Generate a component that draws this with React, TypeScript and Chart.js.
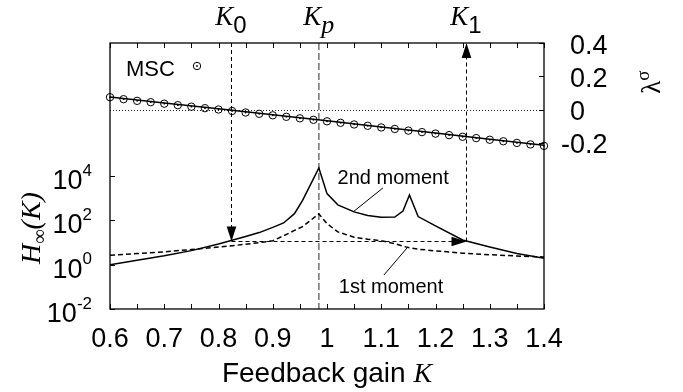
import React, { useEffect, useRef } from 'react';
import { Chart, registerables } from 'chart.js';

Chart.register(...registerables);

// ---------- data ----------
const K_CURVE = [0.6, 0.65, 0.7, 0.75, 0.8, 0.85, 0.875, 0.9, 0.92, 0.94, 0.955, 0.985, 1.0, 1.02, 1.05, 1.075, 1.1, 1.125, 1.14, 1.152, 1.168, 1.2, 1.25, 1.3, 1.35, 1.4];
const H_SECOND = [1.0, 1.6, 2.5, 4.3, 8.5, 18.6, 28, 48, 76, 200, 794, 22900, 1600, 500, 240, 166, 138, 141, 263, 1380, 148, 56, 13, 6.3, 3.2, 1.95];
const H_FIRST = [2.63, 3.16, 3.8, 4.8, 6.2, 8.3, 9.8, 12, 20, 35, 52, 195, 71, 30, 17.4, 14.1, 12, 8.9, 6.8, 5.75, 5.0, 4.2, 3.3, 2.8, 2.45, 2.24];

const K_LAMBDA = [0.6, 0.7, 0.8, 0.9, 1.0, 1.1, 1.2, 1.3, 1.4];
const LAMBDA = [0.075, 0.039, 0.004, -0.031, -0.068, -0.105, -0.142, -0.179, -0.215];

const K_MSC = [0.6, 0.625, 0.65, 0.675, 0.7, 0.725, 0.75, 0.775, 0.8, 0.825, 0.85, 0.875, 0.9, 0.925, 0.95, 0.975, 1.0, 1.025, 1.05, 1.075, 1.1, 1.125, 1.15, 1.175, 1.2, 1.225, 1.25, 1.275, 1.3, 1.325, 1.35, 1.375, 1.4];
const MSC = [0.074, 0.062, 0.052, 0.044, 0.035, 0.026, 0.017, 0.008, 0.0, -0.009, -0.018, -0.026, -0.035, -0.044, -0.053, -0.062, -0.071, -0.08, -0.09, -0.098, -0.108, -0.117, -0.127, -0.136, -0.145, -0.154, -0.164, -0.172, -0.182, -0.191, -0.201, -0.21, -0.219];

const X_TICKS = [0.6, 0.7, 0.8, 0.9, 1.0, 1.1, 1.2, 1.3, 1.4];
const X_TICK_LABELS = ['0.6', '0.7', '0.8', '0.9', '1', '1.1', '1.2', '1.3', '1.4'];
const X_MINOR = [0.65, 0.75, 0.85, 0.95, 1.05, 1.15, 1.25, 1.35];
const H_TICKS = [1e-2, 1, 1e2, 1e4];
const H_TICK_EXP = ['-2', '0', '2', '4'];
const L_TICKS = [0.4, 0.2, 0, -0.2];
const L_TICK_LABELS = ['0.4', '0.2', '0', '-0.2'];

const K0 = 0.823;
const KP = 0.985;
const K1 = 1.256;
const H_LEVEL = 11.5;

// ---------- drawing helpers ----------
const SANS = '"Liberation Sans", Arial, sans-serif';
const SERIF = '"Liberation Serif", "Times New Roman", serif';

type Run = { t: string; f: string; dy?: number };

function drawRuns(ctx: CanvasRenderingContext2D, list: Run[], x: number, y: number, align: 'left' | 'center' | 'right', rot = 0) {
  ctx.save();
  ctx.translate(x, y);
  if (rot) ctx.rotate(rot);
  ctx.textAlign = 'left';
  ctx.textBaseline = 'alphabetic';
  const ws = list.map((r) => {
    ctx.font = r.f;
    return ctx.measureText(r.t).width;
  });
  const total = ws.reduce((s, w) => s + w, 0);
  let cx = align === 'left' ? 0 : align === 'right' ? -total : -total / 2;
  list.forEach((r, i) => {
    ctx.font = r.f;
    ctx.fillText(r.t, cx, r.dy || 0);
    cx += ws[i];
  });
  ctx.restore();
}

function seg(ctx: CanvasRenderingContext2D, x1: number, y1: number, x2: number, y2: number) {
  ctx.beginPath();
  ctx.moveTo(x1, y1);
  ctx.lineTo(x2, y2);
  ctx.stroke();
}

function head(ctx: CanvasRenderingContext2D, tx: number, ty: number, dir: 'up' | 'down' | 'right') {
  const L = 15;
  const W = 4.8;
  ctx.beginPath();
  if (dir === 'down') {
    ctx.moveTo(tx, ty);
    ctx.lineTo(tx - W, ty - L);
    ctx.lineTo(tx + W, ty - L);
  } else if (dir === 'up') {
    ctx.moveTo(tx, ty);
    ctx.lineTo(tx - W, ty + L);
    ctx.lineTo(tx + W, ty + L);
  } else {
    ctx.moveTo(tx, ty);
    ctx.lineTo(tx - L, ty - W);
    ctx.lineTo(tx - L, ty + W);
  }
  ctx.closePath();
  ctx.fill();
}

const decor = {
  id: 'gnuplotDecor',
  beforeDatasetsDraw(chart: any) {
    const { ctx, chartArea: a } = chart;
    const sx = chart.scales.x;
    const sl = chart.scales.y2;
    ctx.save();
    ctx.strokeStyle = '#222';
    ctx.lineWidth = 1;
    ctx.setLineDash([1, 2]);
    const y0 = Math.round(sl.getPixelForValue(0)) + 0.5;
    seg(ctx, a.left, y0, a.right, y0);
    ctx.strokeStyle = '#7a7a7a';
    ctx.lineWidth = 1.6;
    ctx.setLineDash([7, 3]);
    const xp = sx.getPixelForValue(KP);
    seg(ctx, xp, a.top, xp, a.bottom);
    ctx.restore();
  },
  afterDatasetsDraw(chart: any) {
    const { ctx, chartArea: a } = chart;
    const sx = chart.scales.x;
    const sy = chart.scales.y;
    const sl = chart.scales.y2;
    const X = (v: number) => sx.getPixelForValue(v);
    const Y = (v: number) => sy.getPixelForValue(v);
    const L = (v: number) => sl.getPixelForValue(v);
    ctx.save();
    ctx.fillStyle = '#000';
    ctx.strokeStyle = '#000';

    const x0 = Math.round(X(K0)) + 0.5;
    const x1 = Math.round(X(K1)) + 0.5;
    const yl = Math.round(Y(H_LEVEL)) + 0.5;
    ctx.lineWidth = 1;
    ctx.setLineDash([4, 3]);
    seg(ctx, x0, a.top, x0, yl - 14);
    seg(ctx, x0, yl, x1 - 14, yl);
    seg(ctx, x1, yl, x1, a.top + 14);
    ctx.setLineDash([]);
    head(ctx, x0, yl, 'down');
    head(ctx, x1, yl, 'right');
    head(ctx, x1, a.top, 'up');

    ctx.lineWidth = 1.3;
    ctx.strokeRect(a.left, a.top, a.right - a.left, a.bottom - a.top);

    ctx.lineWidth = 1;
    [...X_TICKS, ...X_MINOR].forEach((k) => {
      const px = Math.round(X(k)) + 0.5;
      seg(ctx, px, a.bottom, px, a.bottom - 5);
      seg(ctx, px, a.top, px, a.top + 5);
    });
    H_TICKS.forEach((h) => {
      const py = Math.round(Y(h)) + 0.5;
      seg(ctx, a.left, py, a.left + 5, py);
    });
    L_TICKS.forEach((v) => {
      const py = Math.round(L(v)) + 0.5;
      seg(ctx, a.right, py, a.right - 5, py);
    });

    ctx.font = `27px ${SANS}`;
    ctx.textAlign = 'center';
    ctx.textBaseline = 'alphabetic';
    X_TICKS.forEach((k, i) => ctx.fillText(X_TICK_LABELS[i], X(k), a.bottom + 38));

    const rightEdge = a.left - 18;
    H_TICKS.forEach((h, i) => {
      const py = Y(h);
      ctx.font = `17px ${SANS}`;
      const sw = ctx.measureText(H_TICK_EXP[i]).width;
      ctx.textAlign = 'right';
      ctx.fillText(H_TICK_EXP[i], rightEdge, py - 0.5);
      ctx.font = `27px ${SANS}`;
      ctx.fillText('10', rightEdge - sw, py + 13);
    });

    ctx.font = `27px ${SANS}`;
    ctx.textAlign = 'left';
    const minusW = ctx.measureText('-').width;
    L_TICKS.forEach((v, i) => {
      const s = L_TICK_LABELS[i];
      const lx = a.right + 26 - (s.startsWith('-') ? minusW : 0);
      ctx.fillText(s, lx, L(v) + 10.5);
    });

    drawRuns(ctx, [
      { t: 'Feedback gain ', f: `28px ${SANS}` },
      { t: 'K', f: `italic 28px ${SERIF}` },
    ], (a.left + a.right) / 2, a.bottom + 73, 'center');

    drawRuns(ctx, [
      { t: 'H', f: `italic 28px ${SERIF}` },
      { t: '\u221E', f: `20px ${SERIF}`, dy: 6 },
      { t: '(K)', f: `italic 28px ${SERIF}` },
    ], 40, (a.top + a.bottom) / 2 + 52, 'center', -Math.PI / 2);

    drawRuns(ctx, [
      { t: '\u03BB', f: `27px ${SERIF}` },
      { t: '\u03C3', f: `19px ${SERIF}`, dy: -11 },
    ], a.right + 116, L(0.165), 'center', -Math.PI / 2);

    const ty = a.top - 18;
    drawRuns(ctx, [
      { t: 'K', f: `italic 27px ${SERIF}` },
      { t: '0', f: `24px ${SANS}`, dy: 8 },
    ], X(K0), ty, 'center');
    drawRuns(ctx, [
      { t: 'K', f: `italic 27px ${SERIF}` },
      { t: 'p', f: `italic 26px ${SERIF}`, dy: 8 },
    ], X(KP), ty, 'center');
    drawRuns(ctx, [
      { t: 'K', f: `italic 27px ${SERIF}` },
      { t: '1', f: `24px ${SANS}`, dy: 8 },
    ], X(K1), ty, 'center');

    ctx.font = `22px ${SANS}`;
    ctx.textAlign = 'left';
    ctx.fillText('MSC', a.left + 16, a.top + 33);
    const lx = a.left + 87;
    const lyy = a.top + 23;
    ctx.lineWidth = 1;
    ctx.beginPath();
    ctx.arc(lx, lyy, 3.7, 0, Math.PI * 2);
    ctx.stroke();
    ctx.beginPath();
    ctx.arc(lx, lyy, 0.9, 0, Math.PI * 2);
    ctx.fill();

    ctx.font = `20px ${SANS}`;
    ctx.textAlign = 'center';
    ctx.fillText('2nd moment', X(1.122), Y(4170));
    ctx.fillText('1st moment', X(1.118), Y(0.053));
    ctx.lineWidth = 1;
    seg(ctx, X(1.103), Y(2880), X(1.048), Y(238));
    seg(ctx, X(1.105), Y(0.343), X(1.1475), Y(5.67));

    ctx.restore();
  },
};

export default function App() {
  const ref = useRef<HTMLCanvasElement>(null);

  useEffect(() => {
    document.body.style.margin = '0';
    const canvas = ref.current;
    if (!canvas) return;

    const second = K_CURVE.map((k, i) => ({ x: k, y: H_SECOND[i] }));
    const first = K_CURVE.map((k, i) => ({ x: k, y: H_FIRST[i] }));
    const lam = K_LAMBDA.map((k, i) => ({ x: k, y: LAMBDA[i] }));
    const msc = K_MSC.map((k, i) => ({ x: k, y: MSC[i] }));

    const chart = new Chart(canvas, {
      type: 'line',
      data: {
        datasets: [
          {
            label: 'MSC dots',
            data: msc,
            yAxisID: 'y2',
            showLine: false,
            pointRadius: 0.9,
            pointBorderWidth: 0,
            pointBackgroundColor: '#000',
            clip: false,
          } as any,
          {
            label: 'MSC',
            data: msc,
            yAxisID: 'y2',
            showLine: false,
            pointStyle: 'circle',
            pointRadius: 3.7,
            pointBorderWidth: 1,
            pointBorderColor: '#000',
            pointBackgroundColor: 'rgba(0,0,0,0)',
            clip: false,
          } as any,
          {
            label: 'lambda',
            data: lam,
            yAxisID: 'y2',
            borderColor: '#000',
            borderWidth: 1.5,
            pointRadius: 0,
            tension: 0,
          },
          {
            label: '2nd moment',
            data: second,
            yAxisID: 'y',
            borderColor: '#000',
            borderWidth: 1.5,
            pointRadius: 0,
            tension: 0,
          },
          {
            label: '1st moment',
            data: first,
            yAxisID: 'y',
            borderColor: '#000',
            borderWidth: 1.5,
            borderDash: [5, 3],
            pointRadius: 0,
            tension: 0,
          },
        ],
      },
      options: {
        animation: false,
        responsive: false,
        devicePixelRatio: 1,
        events: [],
        layout: { padding: { left: 110, right: 139, top: 43, bottom: 83 } },
        plugins: { legend: { display: false }, tooltip: { enabled: false } },
        scales: {
          x: { type: 'linear', min: 0.6, max: 1.4, display: false },
          y: { type: 'logarithmic', min: 1e-2, max: 1e10, display: false },
          y2: { type: 'linear', min: -1.2, max: 0.4, display: false, position: 'right' },
        },
      },
      plugins: [decor],
    } as any);

    return () => chart.destroy();
  }, []);

  return (
    <div style={{ width: 683, height: 392, overflow: 'hidden', background: '#fff' }}>
      <canvas ref={ref} width={683} height={392} style={{ display: 'block', width: 683, height: 392 }} />
    </div>
  );
}
